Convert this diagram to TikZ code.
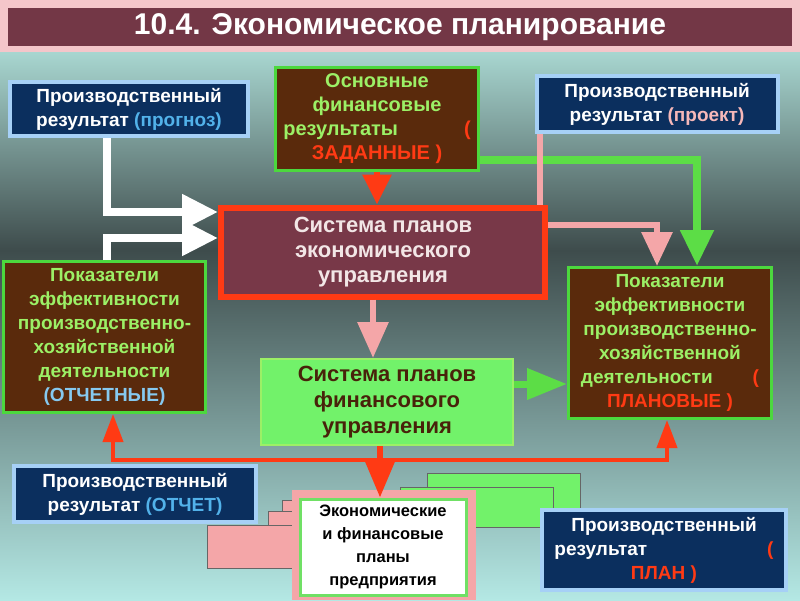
\documentclass[tikz,border=0pt]{standalone}
\usepackage{fontspec}
\setmainfont{Liberation Sans}
\usetikzlibrary{%
  arrows.meta,%
  calc%
}
\definecolor{slidepink}{HTML}{F4C6CA}
\definecolor{titlewine}{HTML}{733746}
\definecolor{bgtop}{HTML}{A8D6D0}
\definecolor{bgdark}{HTML}{3E4C4C}
\definecolor{bgbot}{HTML}{B4E8E4}
\definecolor{navy}{HTML}{0B2F5E}
\definecolor{skyline}{HTML}{A6D0F6}
\definecolor{boxbrown}{HTML}{5A2A0C}
\definecolor{grn}{HTML}{4CD83E}
\definecolor{lgrn}{HTML}{9CF066}
\definecolor{orng}{HTML}{FF3A14}
\definecolor{wine}{HTML}{783848}
\definecolor{finfill}{HTML}{72F26A}
\definecolor{pnk}{HTML}{F4A6A8}
\definecolor{blu}{HTML}{52B2EA}
\definecolor{pale}{HTML}{F2E6E6}
\tikzset{>=latex,%
  box/.style={draw,line width=3pt,align=center,inner sep=0pt,
    font=\bfseries\fontsize{19}{24}\selectfont},
  navybox/.style={box,fill=navy,draw=skyline,line width=4pt,text=white},
  brownbox/.style={box,fill=boxbrown,draw=grn,text=lgrn},
  tip/.style 2 args={-{Triangle[width=#1pt,length=#2pt]}},
  sheet/.style={draw=black!60,line width=0.8pt}}

\begin{document}
\begin{tikzpicture}[x=1pt,y=-1pt]
  \useasboundingbox (0,0) rectangle (800,600);
  % background
  \fill[slidepink] (0,0) rectangle (800,52);
  \shade[top color=bgtop,bottom color=bgdark] (0,52) rectangle (800,250);
  \shade[top color=bgdark,bottom color=bgbot] (0,250) rectangle (800,600);
  \node[draw=slidepink,line width=4pt,fill=titlewine,text=white,
    minimum width=788,minimum height=42,
    font=\bfseries\fontsize{30}{34}\selectfont] (title) at (400,27)
    {10.4. Экономическое планирование};
  % sheets of paper
  \fill[pnk,sheet] (282,500) rectangle (400,540);
  \fill[pnk,sheet] (268,511) rectangle (400,551);
  \fill[pnk,sheet] (207,525) rectangle (400,568);
  \fill[finfill,sheet] (427,473) rectangle (580,512);
  \fill[finfill,sheet] (400,487) rectangle (553,527);
  \fill[pnk] (292,490) rectangle (476,600);
  % boxes
  \node[navybox,minimum width=238,minimum height=54] (prognoz) at (129,109)
    {Производственный\\результат {\color{blu}(прогноз)}};
  \node[brownbox,minimum width=203,minimum height=103,
    font=\bfseries\fontsize{20}{24}\selectfont] (osnov) at (377,119)
    {Основные\\финансовые\\результаты\hspace{66pt}{\color{orng}(}\\
     {\color{orng}ЗАДАННЫЕ )}};
  \node[navybox,minimum width=241,minimum height=56] (proekt) at (657,104)
    {Производственный\\результат {\color{pnk!80!white}(проект)}};
  \node[box,fill=wine,draw=orng,line width=6pt,text=pale,
    font=\bfseries\fontsize{22}{25}\selectfont,
    minimum width=324,minimum height=89] (econsys) at (383,252)
    {Система планов\\экономического\\управления};
  \node[brownbox,minimum width=202,minimum height=151] (otchind) at (104.5,337)
    {Показатели\\эффективности\\производственно-\\хозяйственной\\деятельности\\
     {\color{blu!70!white}(ОТЧЕТНЫЕ)}};
  \node[brownbox,minimum width=203,minimum height=151] (planind) at (670,343)
    {Показатели\\эффективности\\производственно-\\хозяйственной\\
     деятельности\hspace{40pt}{\color{orng}(}\\{\color{orng}ПЛАНОВЫЕ )}};
  \node[box,fill=finfill,draw=lgrn,line width=2pt,text=boxbrown!80!black,
    font=\bfseries\fontsize{22}{26}\selectfont,
    minimum width=252,minimum height=86] (finsys) at (387,402)
    {Система планов\\финансового\\управления};
  \node[navybox,minimum width=242,minimum height=56] (otchet) at (135,494)
    {Производственный\\результат {\color{blu}(ОТЧЕТ)}};
  \node[box,fill=white,draw=grn!80!white,text=black,
    font=\bfseries\fontsize{16.5}{23}\selectfont,
    minimum width=166,minimum height=96] (plans) at (383,547)
    {Экономические\\и финансовые\\планы\\предприятия};
  \node[navybox,minimum width=244,minimum height=80] (plan) at (664,550)
    {Производственный\\результат\hspace{120pt}{\color{orng}(}\\
     {\color{orng}ПЛАН )}};
  % connectors
  \draw[white,line width=8pt,tip={34}{36}] ($(prognoz.south)+(-22,0)$)
    |- ($(econsys.west)+(0,-40)$);
  \draw[white,line width=8pt,tip={34}{36}] ($(otchind.north)+(2.5,0)$)
    |- ($(econsys.west)+(0,-14)$);
  \draw[orng,line width=6pt,tip={28}{30}] (osnov.south)
    -- (osnov.south |- econsys.north);
  \draw[grn!80!lgrn,line width=8pt,tip={32}{36}] ($(osnov.east)+(0,41)$)
    -| ($(planind.north)+(27,0)$);
  \draw[pnk,line width=6pt] ($(proekt.south)+(-117.5,0)$) coordinate (p0)
    -- (p0 |- econsys.north);
  \draw[pnk,line width=6pt,tip={30}{34}] ($(econsys.east)+(0,-27)$)
    -| ($(planind.north)+(-13,0)$);
  \draw[pnk,line width=6pt,tip={30}{36}] ($(econsys.south)+(-10,0)$) coordinate (p3)
    -- (p3 |- finsys.north);
  \draw[grn!80!lgrn,line width=7pt,tip={30}{40}] ($(finsys.east)+(0,-18)$) coordinate (g2)
    -- (g2 -| planind.west);
  \draw[orng,line width=6pt,tip={30}{38}] ($(finsys.south)+(-7,0)$) coordinate (r2)
    -- (r2 |- plans.north);
  \coordinate (hub) at ($(r2)+(0,14)$);
  \draw[orng,line width=4pt,tip={20}{28}] (hub) -| ($(otchind.south)+(8.5,0)$);
  \draw[orng,line width=4pt,tip={20}{28}] (hub) -| ($(planind.south)+(-3,0)$);
\end{tikzpicture}
\end{document}
